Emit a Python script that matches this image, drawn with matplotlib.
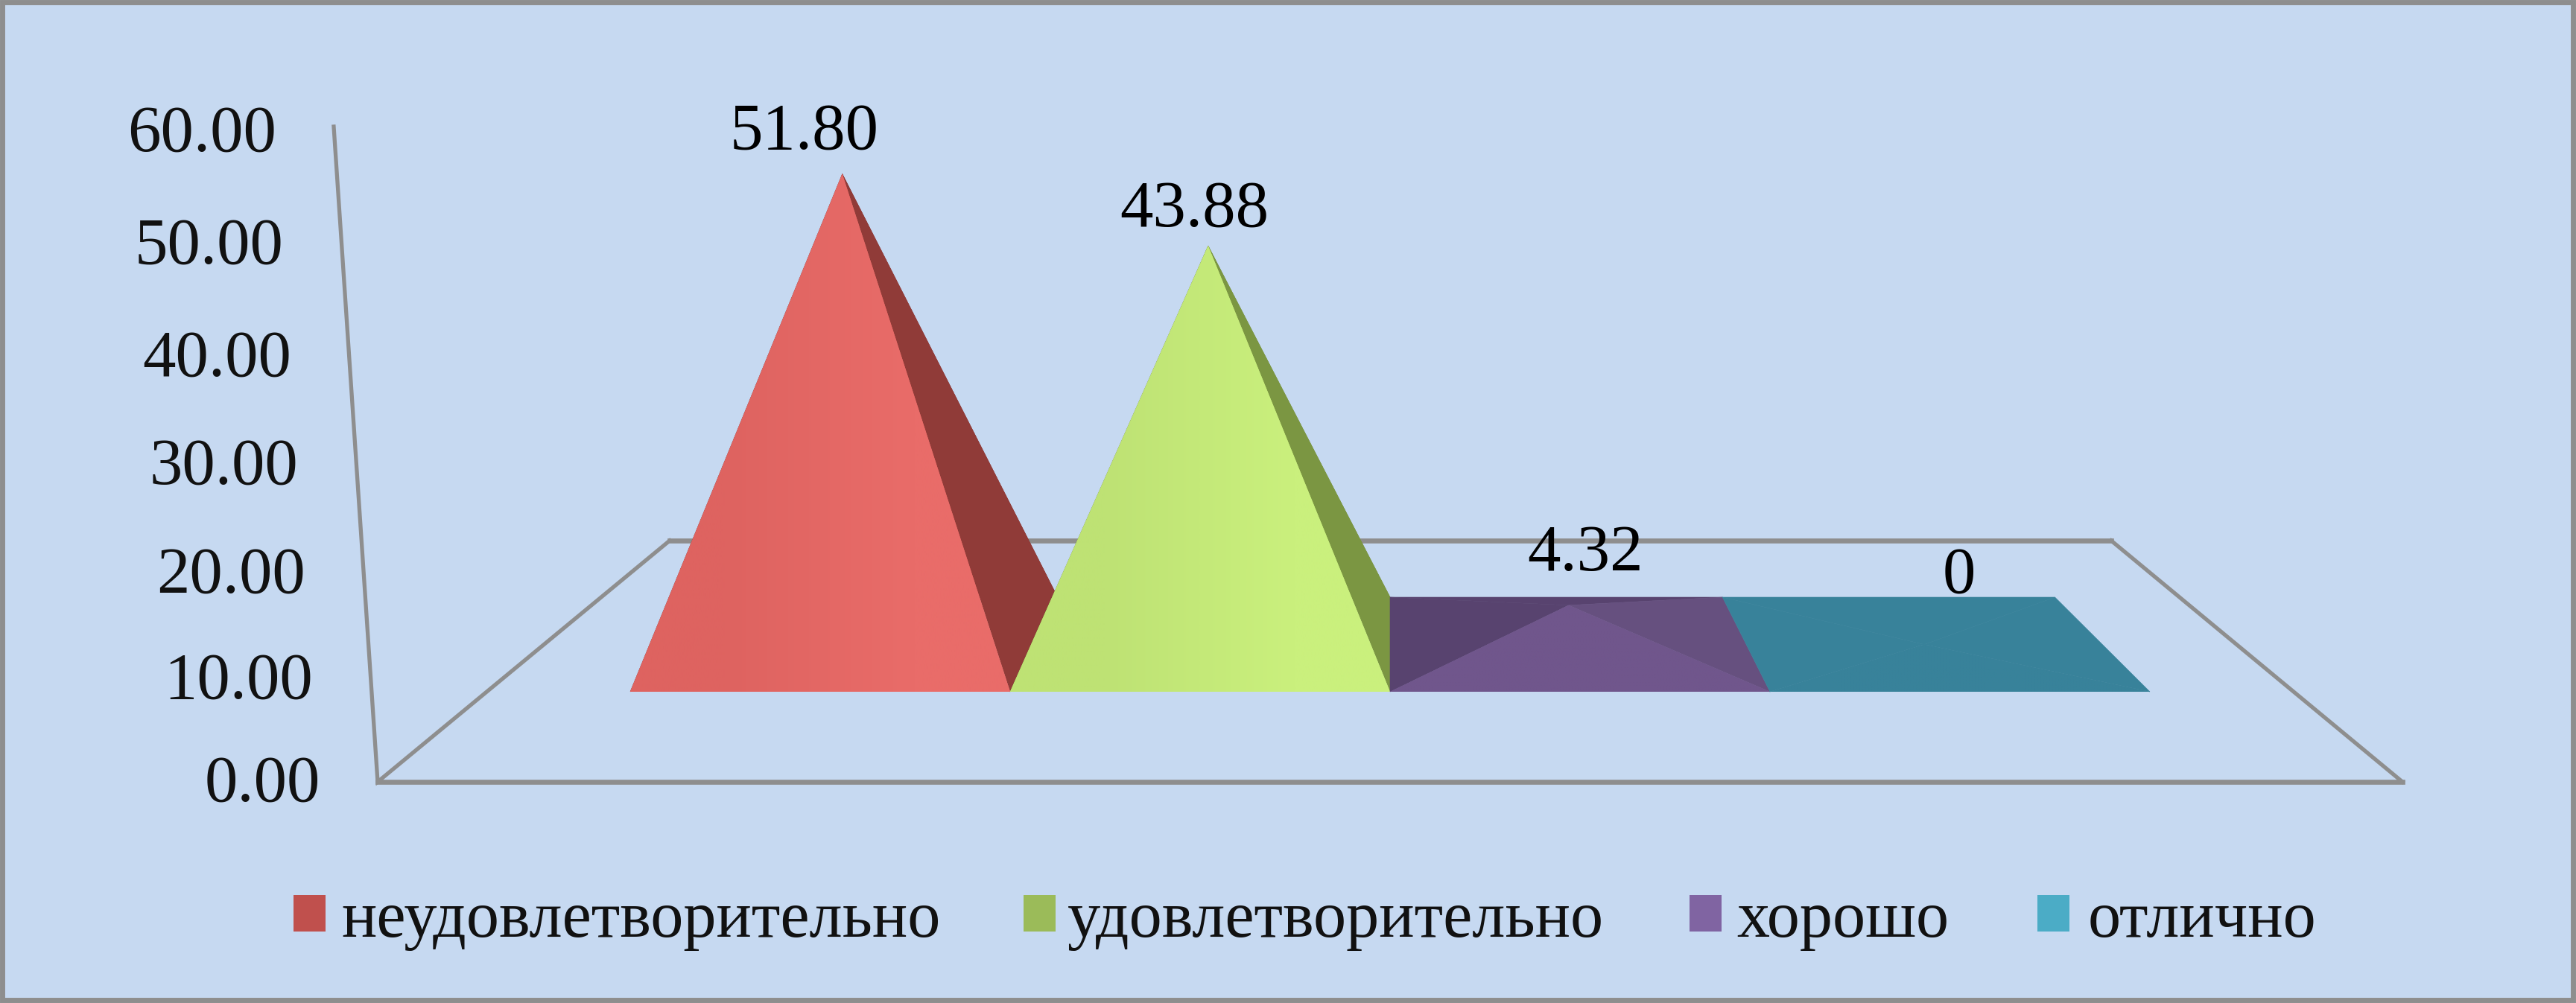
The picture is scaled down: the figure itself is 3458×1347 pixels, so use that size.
import numpy as np
import matplotlib
matplotlib.use("Agg")
import matplotlib.pyplot as plt
from matplotlib.colors import to_rgb
from matplotlib.patches import Polygon, Rectangle

W, H = 3458, 1347

categories = ["неудовлетворительно", "удовлетворительно", "хорошо", "отлично"]
values = [51.80, 43.88, 4.32, 0]
value_labels = ["51.80", "43.88", "4.32", "0"]
y_ticks = [0, 10, 20, 30, 40, 50, 60]
y_tick_labels = ["0.00", "10.00", "20.00", "30.00", "40.00", "50.00", "60.00"]

legend_colors = ["#C0504D", "#9BBB59", "#8064A2", "#4BACC6"]
front_grad = [("#DE6360", "#E96C69"), ("#BEE274", "#CAF07D"),
              ("#70568C", "#70568C"), ("#38829A", "#38829A")]
right_colors = ["#903B38", "#7B9642", "#66507F", "#38829A"]
left_colors = ["#903B38", "#7B9642", "#58436F", "#38829A"]
back_colors = ["#903B38", "#7B9642", "#58436F", "#38829A"]

BG = "#C6D9F1"
LINE = "#8E8E8E"
SERIF = "Liberation Serif"

# scene geometry, in pixels of the picture
FRONT_Y, BACK_Y = 929, 802
SLOT_X0, SLOT_W = 846, 510
VANISH_X = 1866
DEPTH = 0.875
PX_PER_VALUE = 12.2
LEAN = 4e-5

# offset of each value label from its apex
label_dx = [-51, -19, 22, 47]
label_dy = [34, 27, 47, 70]

# wall scale, tick label baselines sit a little under the wall position
WALL_BOTTOM = (507, 1050)
WALL_TOP = (448, 170)
tick_dy = [26, 34, 39, 40, 41, 37, 33]

fig = plt.figure(figsize=(W / 100, H / 100), dpi=100, facecolor=BG)
ax = fig.add_axes([0, 0, 1, 1])
ax.set_axis_off()


def back_x(x):
    return VANISH_X + (x - VANISH_X) * DEPTH


def wall_point(v):
    t = v / y_ticks[-1]
    return (WALL_BOTTOM[0] + (WALL_TOP[0] - WALL_BOTTOM[0]) * t,
            WALL_BOTTOM[1] + (WALL_TOP[1] - WALL_BOTTOM[1]) * t)


def draw_gradient_face(points, c0, c1, z):
    patch = Polygon(points, closed=True, facecolor=c1, edgecolor="none", zorder=z)
    ax.add_patch(patch)
    xs = [p[0] for p in points]
    ys = [p[1] for p in points]
    grad = np.array([[to_rgb(c0), to_rgb(c1)]])
    im = ax.imshow(grad, extent=(min(xs), max(xs), max(ys), min(ys)),
                   aspect="auto", interpolation="bilinear", zorder=z)
    im.set_clip_path(patch)


# frame
ax.add_patch(Rectangle((3, 3), W - 7, H - 7, facecolor=BG, edgecolor=LINE, lw=5, zorder=0))

# floor and wall, the level edges come out heavier than the slanted ones
ax.plot([WALL_TOP[0], WALL_BOTTOM[0], 899, 899], [WALL_TOP[1], WALL_BOTTOM[1], 726, 726],
        color=LINE, lw=3.8, solid_joinstyle="miter", zorder=1)
ax.plot([2834, 3225], [726, WALL_BOTTOM[1]], color=LINE, lw=3.8, zorder=1)
ax.plot([899, 2834], [726, 726], color=LINE, lw=4.8, zorder=1)
ax.plot([WALL_BOTTOM[0], 3225], [WALL_BOTTOM[1], WALL_BOTTOM[1]], color=LINE, lw=4.8, zorder=1)

# pyramids
for i, v in enumerate(values):
    x0 = SLOT_X0 + i * SLOT_W
    x1 = x0 + SLOT_W
    fl, fr = (x0, FRONT_Y), (x1, FRONT_Y)
    bl, br = (back_x(x0), BACK_Y), (back_x(x1), BACK_Y)

    mid_x = (x0 + x1) / 2
    mid_x = VANISH_X + (mid_x - VANISH_X) * (1 + DEPTH) / 2
    height = v * PX_PER_VALUE
    apex_x = mid_x + (mid_x - VANISH_X) * height * LEAN
    apex_y = (FRONT_Y + BACK_Y) / 2 - height
    apex = (apex_x, apex_y)

    z = 2 + i * 0.01
    for pts, col in [([bl, br, apex], back_colors[i]),
                     ([fl, bl, apex], left_colors[i]),
                     ([fr, br, apex], right_colors[i])]:
        ax.add_patch(Polygon(pts, closed=True, facecolor=col, edgecolor=col, lw=0.4, zorder=z))
    draw_gradient_face([fl, fr, apex], front_grad[i][0], front_grad[i][1], z + 0.005)

    ax.text(apex_x + label_dx[i], apex_y - label_dy[i], value_labels[i],
            family=SERIF, fontsize=64, ha="center", va="baseline", color="black", zorder=6)

# y axis labels follow the slanted wall
for tick, lab, dy in zip(y_ticks, y_tick_labels, tick_dy):
    wx, wy = wall_point(tick)
    ax.text(wx - 77, wy + dy, lab, family=SERIF, fontsize=64, ha="right", va="baseline",
            color="#111111", zorder=6)

# legend
leg_box_x = [394, 1374, 2268, 2735]
leg_text_x = [458, 1433, 2331, 2803]
for bx, tx, col, name in zip(leg_box_x, leg_text_x, legend_colors, categories):
    ax.add_patch(Rectangle((bx, 1202), 43, 49, facecolor=col, edgecolor="none", zorder=5))
    ax.text(tx, 1258, name, family=SERIF, fontsize=63.5, ha="left", va="baseline",
            color="#111111", zorder=6)

ax.set_xlim(0, W)
ax.set_ylim(H, 0)

fig.savefig("out.png", dpi=100, facecolor=BG)
